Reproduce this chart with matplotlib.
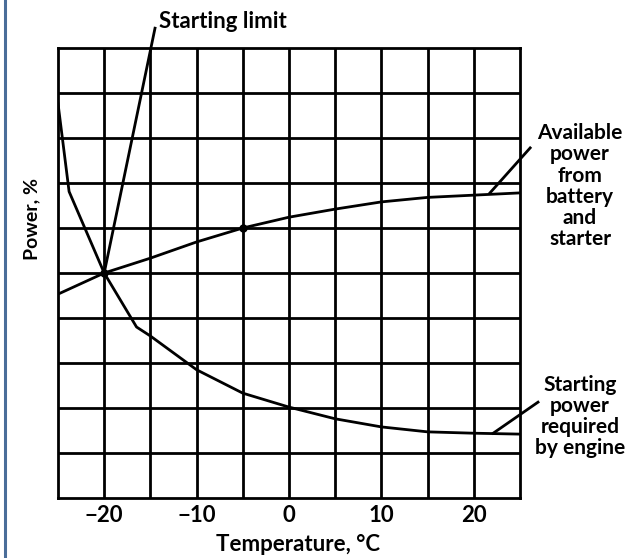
import matplotlib
matplotlib.use("Agg")
import matplotlib.pyplot as plt
from matplotlib.lines import Line2D

plt.rcParams["font.family"] = ["Lato", "DejaVu Sans"]
plt.rcParams["font.weight"] = "bold"

# 데이터
temp_available = [-25, -20, -15, -10, -5, 0, 5, 10, 15, 20, 25]
power_available = [45.3, 50, 53.3, 56.9, 60, 62.4, 64.2, 65.8, 66.8, 67.3, 67.8]

temp_required = [-25, -23.8, -20, -16.5, -15, -10, -5, 0, 5, 10, 15, 20, 25]
power_required = [87.7, 68.1, 50, 38, 36, 28.5, 23.3, 20.2, 17.6, 15.8, 14.7, 14.4, 14.2]

temp_limit = [-20, -14.5]
power_limit = [50, 104.4]

marked_temp = [-20, -5]
marked_power = [50, 60]

x_ticks = [-20, -10, 0, 10, 20]
x_tick_labels = ["\u221220", "\u221210", "0", "10", "20"]

FS = 16

fig = plt.figure(figsize=(6.25, 5.58), dpi=100)
ax = fig.add_axes([0.0928, 0.1075, 0.7392, 0.8065])

ax.set_xlim(-25, 25)
ax.set_ylim(0, 100)
for gx in range(-20, 25, 5):
    ax.axvline(gx, color="black", lw=2.0, zorder=1)
for gy in range(10, 100, 10):
    ax.axhline(gy, color="black", lw=2.0, zorder=1)
for s in ax.spines.values():
    s.set_linewidth(2.0)

ax.plot(temp_available, power_available, color="black", lw=2.0, zorder=3)
ax.plot(temp_required, power_required, color="black", lw=2.0, zorder=3)
ax.plot(temp_limit, power_limit, color="black", lw=2.0, zorder=3, clip_on=False)
ax.plot(marked_temp, marked_power, "o", color="black", ms=5, zorder=4)

ax.set_xticks(x_ticks)
ax.set_xticklabels(x_tick_labels)
ax.set_yticks([])
ax.tick_params(axis="x", length=0, pad=5, labelsize=FS)

ax.set_xlabel("Temperature, \u00b0C", fontsize=FS, fontweight="bold", va="center")
ax.xaxis.set_label_coords(0.52, -0.104)
ax.set_ylabel("Power, %", fontsize=14, fontweight="bold", va="center")
ax.yaxis.set_label_coords(-0.056, 0.62)

# 주석
ax.text(-14.07, 105.8, "Starting limit", fontsize=FS, fontweight="bold",
        ha="left", va="center", clip_on=False)

ax.plot([26.1, 21.75], [77.8, 67.8], color="black", lw=2.0, clip_on=False)
ax.text(31.5, 69.3, "Available\npower\nfrom\nbattery\nand\nstarter", fontsize=15,
        fontweight="bold", ha="center", va="center", linespacing=1.07, clip_on=False)

ax.plot([26.95, 22.1], [21.3, 14.4], color="black", lw=2.0, clip_on=False)
ax.text(31.5, 18.1, "Starting\npower\nrequired\nby engine", fontsize=15,
        fontweight="bold", ha="center", va="center", linespacing=1.07, clip_on=False)

# 왼쪽 파란 테두리
fig.add_artist(Line2D([0.008, 0.008], [0, 1], transform=fig.transFigure,
                      color="#4a6d99", lw=2.2))

fig.savefig("out.png", dpi=100)
